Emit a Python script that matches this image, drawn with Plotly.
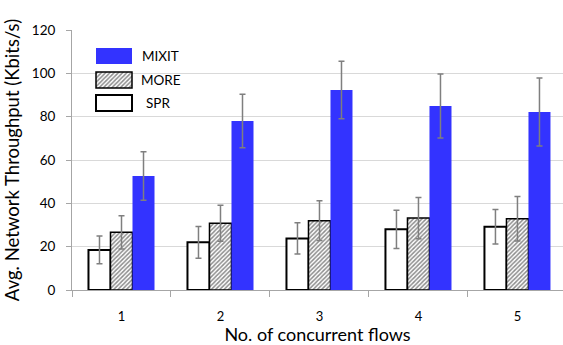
import plotly.graph_objects as go

# Number of concurrent flows
flows = ["1", "2", "3", "4", "5"]

# Average network throughput (Kbits/s) and error half-widths per scheme
spr = [18.5, 22.0, 23.8, 28.0, 29.2]
spr_err = [6.4, 7.3, 7.2, 8.8, 8.0]
more = [26.6, 30.8, 32.0, 33.2, 32.9]
more_err = [7.7, 8.3, 9.2, 9.5, 10.3]
mixit = [52.6, 78.0, 92.3, 84.9, 82.2]
mixit_err = [11.2, 12.3, 13.3, 14.8, 15.7]

series_names = ["MIXIT", "MORE", "SPR"]

FONT = "Lato"
BLUE = "#3333FF"
ERR = "#7f7f7f"

# plot-area geometry (pixels) used to place the legend swatches
W, H = 563, 345
L, T, B = 72, 30, 55
PW, PH = W - L, H - T - B


def fx(px):
    return (px - L) / PW


def fy(py):
    return (H - B - py) / PH


styles = {
    "SPR": dict(color="white", line=dict(color="black", width=2)),
    "MORE": dict(color="white", line=dict(color="black", width=1.5),
                 pattern=dict(shape="/", fgcolor="#1a1a1a", bgcolor="white",
                              size=3, solidity=0.5)),
    "MIXIT": dict(color=BLUE, line=dict(width=0)),
}

fig = go.Figure()
for name, vals, errs in [("SPR", spr, spr_err), ("MORE", more, more_err),
                         ("MIXIT", mixit, mixit_err)]:
    fig.add_trace(go.Bar(
        x=flows, y=vals, name=name, marker=styles[name],
        error_y=dict(type="data", array=errs, color=ERR, thickness=1.5, width=3),
        showlegend=False,
    ))

# legend swatches drawn on an overlay axis spanning the plot area
sw_x0, sw_x1 = fx(96), fx(132)
sw_h = 16 / PH
sw_rows = {"MIXIT": 56, "MORE": 80, "SPR": 103}
label_left = {"MIXIT": 141, "MORE": 140, "SPR": 145}
for name in series_names:
    fig.add_trace(go.Bar(
        x=[sw_x1 - sw_x0], base=[sw_x0], y=[fy(sw_rows[name])],
        width=[sw_h], orientation="h", marker=styles[name],
        xaxis="x2", yaxis="y2", showlegend=False, hoverinfo="skip",
    ))

annotations = [
    dict(x=fx(label_left[n]), y=fy(sw_rows[n]),
         xref="paper", yref="paper", text=n, showarrow=False,
         xanchor="left", yanchor="middle", borderpad=0,
         font=dict(family=FONT, size=13.5, color="black"))
    for n in series_names
]

fig.update_layout(
    width=W, height=H,
    margin=dict(l=L, r=0, t=T, b=B),
    paper_bgcolor="white", plot_bgcolor="white",
    barmode="group", bargap=0.333, bargroupgap=0,
    font=dict(family=FONT, size=13, color="black"),
    annotations=annotations,
    xaxis=dict(
        type="category", range=[-0.5, 4.46],
        showgrid=False, showline=True, linecolor="#a6a6a6", linewidth=1,
        ticks="outside", tickson="boundaries", ticklen=6, tickcolor="#a6a6a6",
        ticklabelstandoff=14,
        tickfont=dict(family=FONT, size=13),
        title=dict(text="No. of concurrent flows", standoff=7,
                   font=dict(family=FONT, size=18)),
    ),
    yaxis=dict(
        range=[0, 120], dtick=20,
        showgrid=True, gridcolor="#d9d9d9", gridwidth=1,
        showline=True, linecolor="#a6a6a6", linewidth=1,
        ticks="outside", ticklen=5, tickcolor="#a6a6a6",
        ticklabelstandoff=8,
        tickfont=dict(family=FONT, size=13.5),
        zeroline=False,
        title=dict(text="Avg. Network Throughput (Kbits/s)", standoff=7,
                   font=dict(family=FONT, size=18.5)),
    ),
    xaxis2=dict(overlaying="x", range=[0, 1], visible=False, fixedrange=True),
    yaxis2=dict(overlaying="y", range=[0, 1], visible=False, fixedrange=True),
)

fig.write_html("out.html")
